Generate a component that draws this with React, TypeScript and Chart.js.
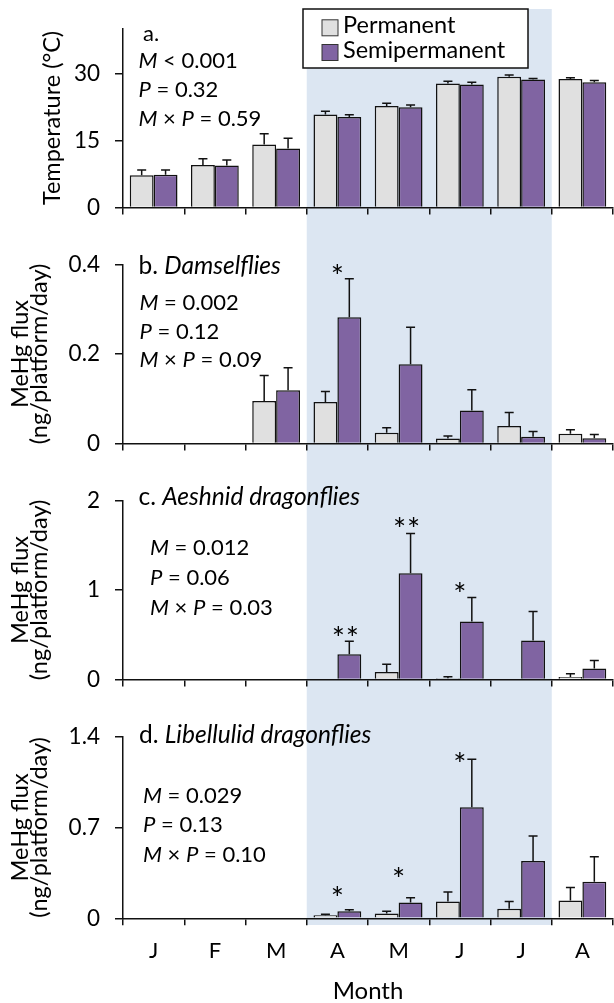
import React, { useEffect, useRef } from "react";
import { Chart, registerables } from "chart.js";

Chart.register(...registerables);

// ---------- data ----------
const months = ["J", "F", "M", "A", "M", "J", "J", "A"];
const seriesNames = ["Permanent", "Semipermanent"];

// a. Temperature (°C)
const tempPerm = [7.2, 9.5, 14.1, 20.8, 22.7, 27.7, 29.2, 28.7];
const tempPermErr = [1.2, 1.4, 2.4, 0.7, 0.6, 0.5, 0.4, 0.3];
const tempSemi = [7.3, 9.4, 13.2, 20.2, 22.4, 27.5, 28.6, 28.0];
const tempSemiErr = [1.1, 1.2, 2.3, 0.5, 0.5, 0.5, 0.2, 0.4];
const tempTicks = [0, 15, 30];
const tempMax = 40;
const tempStats = ["< 0.001", "= 0.32", "= 0.59"];

// b. Damselflies
const damPerm = [0, 0, 0.095, 0.093, 0.024, 0.011, 0.039, 0.022];
const damPermErr = [0, 0, 0.057, 0.023, 0.011, 0.006, 0.03, 0.009];
const damSemi = [0, 0, 0.119, 0.282, 0.177, 0.074, 0.015, 0.012];
const damSemiErr = [0, 0, 0.05, 0.086, 0.083, 0.046, 0.012, 0.008];
const damTicks = [0, 0.2, 0.4];
const damStats = ["= 0.002", "= 0.12", "= 0.09"];
const damSig = [{ month: 3, stars: 1, at: 0.391 }];

// c. Aeshnid dragonflies
const aesPerm = [0, 0, 0, 0, 0.084, 0.015, 0, 0.029];
const aesPermErr = [0, 0, 0, 0, 0.085, 0.015, 0, 0.034];
const aesSemi = [0, 0, 0, 0.282, 1.187, 0.648, 0.437, 0.124];
const aesSemiErr = [0, 0, 0, 0.145, 0.443, 0.268, 0.323, 0.087];
const aesTicks = [0, 1, 2];
const aesStats = ["= 0.012", "= 0.06", "= 0.03"];
const aesSig = [
  { month: 3, stars: 2, at: 0.546 },
  { month: 4, stars: 2, at: 1.76 },
  { month: 5, stars: 1, at: 1.03 },
];

// d. Libellulid dragonflies
const libPerm = [0, 0, 0, 0.024, 0.037, 0.13, 0.074, 0.137];
const libPermErr = [0, 0, 0, 0.008, 0.017, 0.073, 0.056, 0.101];
const libSemi = [0, 0, 0, 0.054, 0.122, 0.855, 0.442, 0.282];
const libSemiErr = [0, 0, 0, 0.012, 0.037, 0.37, 0.192, 0.192];
const libTicks = [0, 0.7, 1.4];
const libStats = ["= 0.029", "= 0.13", "= 0.10"];
const libSig = [
  { month: 3, stars: 1, at: 0.209 },
  { month: 4, stars: 1, at: 0.356 },
  { month: 5, stars: 1, at: 1.24 },
];

// shaded months (first, last index)
const shadedMonths = [3, 6];

// ---------- style ----------
const FONT = "Lato";
const PERM_COLOR = "#e0e0e0";
const SEMI_COLOR = "#8064a2";
const SHADE_COLOR = "#dce6f2";
const INK = "#111111";
const SHADE_TOP = 9;
const SHADE_BOTTOM = 925;
const STAT_SIZE = 22;
const HEAD_SIZE = 24.5;

type Seg = { t: string; it?: boolean };
type Line = { segs: Seg[]; x: number; y: number; size: number };

function statLines(vals: string[], x: number, ys: number[]): Line[] {
  return [
    { segs: [{ t: "M", it: true }, { t: " " + vals[0] }], x, y: ys[0], size: STAT_SIZE },
    { segs: [{ t: "P", it: true }, { t: " " + vals[1] }], x, y: ys[1], size: STAT_SIZE },
    {
      segs: [{ t: "M", it: true }, { t: " × " }, { t: "P", it: true }, { t: " " + vals[2] }],
      x,
      y: ys[2],
      size: STAT_SIZE,
    },
  ];
}

function drawSegs(ctx: CanvasRenderingContext2D, segs: Seg[], x: number, y: number, size: number) {
  let cx = x;
  ctx.textAlign = "left";
  ctx.textBaseline = "middle";
  ctx.fillStyle = "#000";
  for (const s of segs) {
    ctx.font = `${s.it ? "italic " : ""}${size}px ${FONT}`;
    ctx.fillText(s.t, cx, y);
    cx += ctx.measureText(s.t).width;
  }
}

type PanelCfg = {
  key: string;
  top: number;
  height: number;
  padTop: number;
  xHeight: number;
  perm: number[];
  permErr: number[];
  semi: number[];
  semiErr: number[];
  ticks: number[];
  max: number;
  yTitle: string | string[];
  yTitlePad: number;
  yTitleLH: number;
  lines: Line[];
  sig: { month: number; stars: number; at: number }[];
  showX: boolean;
  legend: boolean;
};

const MEHG_TITLE = ["MeHg flux", "(ng/platform/day)"];

const panels: PanelCfg[] = [
  {
    key: "a",
    top: 0,
    height: 236,
    padTop: 24.5,
    xHeight: 24,
    perm: tempPerm,
    permErr: tempPermErr,
    semi: tempSemi,
    semiErr: tempSemiErr,
    ticks: tempTicks,
    max: tempMax,
    yTitle: "Temperature (°C)",
    yTitlePad: 38,
    yTitleLH: 1.2,
    lines: [
      { segs: [{ t: "a." }], x: 143, y: 34, size: STAT_SIZE },
      ...statLines(tempStats, 138.5, [61, 90, 118.5]),
    ],
    sig: [],
    showX: false,
    legend: true,
  },
  {
    key: "b",
    top: 236,
    height: 236,
    padTop: 23.3,
    xHeight: 23.7,
    perm: damPerm,
    permErr: damPermErr,
    semi: damSemi,
    semiErr: damSemiErr,
    ticks: damTicks,
    max: damTicks[damTicks.length - 1],
    yTitle: MEHG_TITLE,
    yTitlePad: 11,
    yTitleLH: 0.8,
    lines: [
      { segs: [{ t: "b. " }, { t: "Damselflies", it: true }], x: 138.5, y: 30, size: HEAD_SIZE },
      ...statLines(damStats, 139.5, [67.3, 95.7, 124]),
    ],
    sig: damSig,
    showX: false,
    legend: false,
  },
  {
    key: "c",
    top: 472,
    height: 236,
    padTop: 20.3,
    xHeight: 26.3,
    perm: aesPerm,
    permErr: aesPermErr,
    semi: aesSemi,
    semiErr: aesSemiErr,
    ticks: aesTicks,
    max: aesTicks[aesTicks.length - 1],
    yTitle: MEHG_TITLE,
    yTitlePad: 11,
    yTitleLH: 0.8,
    lines: [
      { segs: [{ t: "c. " }, { t: "Aeshnid dragonflies", it: true }], x: 138.5, y: 25.3, size: HEAD_SIZE },
      ...statLines(aesStats, 150, [76.3, 106.3, 136.3]),
    ],
    sig: aesSig,
    showX: false,
    legend: false,
  },
  {
    key: "d",
    top: 708,
    height: 295,
    padTop: 20.3,
    xHeight: 84.7,
    perm: libPerm,
    permErr: libPermErr,
    semi: libSemi,
    semiErr: libSemiErr,
    ticks: libTicks,
    max: libTicks[libTicks.length - 1],
    yTitle: MEHG_TITLE,
    yTitlePad: 11,
    yTitleLH: 0.8,
    lines: [
      { segs: [{ t: "d. " }, { t: "Libellulid dragonflies", it: true }], x: 139, y: 27, size: HEAD_SIZE },
      ...statLines(libStats, 143, [88, 117, 147]),
    ],
    sig: libSig,
    showX: true,
    legend: false,
  },
];

function buildChart(canvas: HTMLCanvasElement, p: PanelCfg) {
  const errors = [p.permErr, p.semiErr];

  const shadePlugin = {
    id: "shade_" + p.key,
    beforeDraw(chart: any) {
      const ctx = chart.ctx as CanvasRenderingContext2D;
      const xs = chart.scales.x;
      const x0 = xs.getPixelForValue(shadedMonths[0] - 0.5);
      const x1 = xs.getPixelForValue(shadedMonths[1] + 0.5);
      const y0 = Math.max(0, SHADE_TOP - p.top);
      const y1 = Math.min(p.height, SHADE_BOTTOM - p.top);
      ctx.save();
      ctx.fillStyle = SHADE_COLOR;
      ctx.fillRect(x0, y0, x1 - x0, y1 - y0);
      ctx.restore();
    },
  };

  const overlayPlugin = {
    id: "overlay_" + p.key,
    afterDatasetsDraw(chart: any) {
      const ctx = chart.ctx as CanvasRenderingContext2D;
      const ys = chart.scales.y;
      ctx.save();
      ctx.strokeStyle = INK;
      ctx.lineWidth = 1.5;
      for (let d = 0; d < 2; d++) {
        const meta = chart.getDatasetMeta(d);
        const vals = chart.data.datasets[d].data as number[];
        meta.data.forEach((bar: any, i: number) => {
          const e = errors[d][i];
          if (!e) return;
          const yTop = ys.getPixelForValue(vals[i] + e);
          ctx.beginPath();
          ctx.moveTo(bar.x, bar.y);
          ctx.lineTo(bar.x, yTop);
          ctx.moveTo(bar.x - 4.5, yTop);
          ctx.lineTo(bar.x + 4.5, yTop);
          ctx.stroke();
        });
      }
      ctx.restore();
    },
    afterDraw(chart: any) {
      const ctx = chart.ctx as CanvasRenderingContext2D;
      const xs = chart.scales.x;
      const ys = chart.scales.y;
      ctx.save();
      for (const l of p.lines) drawSegs(ctx, l.segs, l.x, l.y, l.size);

      // significance stars
      ctx.font = `31px ${FONT}`;
      ctx.fillStyle = "#000";
      ctx.textAlign = "center";
      ctx.textBaseline = "alphabetic";
      const m = ctx.measureText("*");
      const off = (m.actualBoundingBoxAscent - m.actualBoundingBoxDescent) / 2;
      for (const s of p.sig) {
        const cx = xs.getPixelForValue(s.month) + (s.stars > 1 ? 8 : 0);
        const cy = ys.getPixelForValue(s.at);
        for (let k = 0; k < s.stars; k++) {
          const sx = cx - ((s.stars - 1) * 14) / 2 + k * 14;
          ctx.fillText("*", sx, cy + off);
        }
      }

      if (p.legend) {
        const bx = 303, by = 9, bw = 225, bh = 59;
        ctx.fillStyle = "#fff";
        ctx.fillRect(bx, by, bw, bh);
        ctx.strokeStyle = INK;
        ctx.lineWidth = 1.5;
        ctx.strokeRect(bx, by, bw, bh);
        const rows = [27.8, 52.5];
        const cols = [PERM_COLOR, SEMI_COLOR];
        for (let r = 0; r < 2; r++) {
          ctx.fillStyle = cols[r];
          ctx.fillRect(322, rows[r] - 8, 16, 16);
          ctx.strokeStyle = "#333";
          ctx.lineWidth = 1;
          ctx.strokeRect(322, rows[r] - 8, 16, 16);
          ctx.fillStyle = "#000";
          ctx.font = `23.5px ${FONT}`;
          ctx.textAlign = "left";
          ctx.textBaseline = "middle";
          ctx.fillText(seriesNames[r], 343, rows[r] - 2.5);
        }
      }
      ctx.restore();
    },
  };

  return new Chart(canvas, {
    type: "bar",
    data: {
      labels: months,
      datasets: [
        {
          label: seriesNames[0],
          data: p.perm,
          backgroundColor: PERM_COLOR,
          borderColor: INK,
          borderWidth: 1.5,
          categoryPercentage: 0.78,
          barPercentage: 1.0,
        },
        {
          label: seriesNames[1],
          data: p.semi,
          backgroundColor: SEMI_COLOR,
          borderColor: INK,
          borderWidth: 1.5,
          categoryPercentage: 0.78,
          barPercentage: 1.0,
        },
      ],
    },
    options: {
      responsive: false,
      animation: false,
      devicePixelRatio: 1,
      layout: { padding: { top: p.padTop, bottom: 0, left: 0, right: 1 } },
      plugins: {
        legend: { display: false },
        tooltip: { enabled: false },
      },
      scales: {
        x: {
          offset: true,
          grid: {
            offset: true,
            drawOnChartArea: false,
            drawTicks: true,
            tickLength: 7,
            color: INK,
            lineWidth: 1.5,
          },
          border: { display: true, color: INK, width: 1.5 },
          ticks: {
            display: p.showX,
            color: "#000",
            font: { family: FONT, size: 22 },
            padding: 12,
            maxRotation: 0,
            autoSkip: false,
          },
          title: {
            display: p.showX,
            text: "Month",
            color: "#000",
            font: { family: FONT, size: 24, lineHeight: 1.0 },
            padding: { top: 0, bottom: 0 },
          },
          afterFit(scale: any) {
            scale.height = p.xHeight;
          },
        },
        y: {
          min: 0,
          max: p.max,
          grid: {
            drawOnChartArea: false,
            drawTicks: true,
            tickLength: 8,
            color: INK,
            lineWidth: 1.5,
          },
          border: { display: true, color: INK, width: 1.5 },
          ticks: {
            color: "#000",
            font: { family: FONT, size: 22.5 },
            padding: 15,
            callback: (v: any) => String(v),
          },
          afterBuildTicks(scale: any) {
            scale.ticks = p.ticks.map((v) => ({ value: v }));
          },
          title: {
            display: true,
            text: p.yTitle,
            color: "#000",
            font: { family: FONT, size: 23.5, lineHeight: p.yTitleLH },
            padding: { top: p.yTitlePad, bottom: 0 },
          },
          afterFit(scale: any) {
            scale.width = 123;
          },
        },
      },
    },
    plugins: [shadePlugin, overlayPlugin],
  } as any);
}

function Panel({ p }: { p: PanelCfg }) {
  const ref = useRef<HTMLCanvasElement>(null);
  useEffect(() => {
    if (!ref.current) return;
    const chart = buildChart(ref.current, p);
    return () => chart.destroy();
  }, [p]);
  return (
    <canvas
      ref={ref}
      width={614}
      height={p.height}
      style={{ position: "absolute", left: 0, top: p.top, width: 614, height: p.height, display: "block" }}
    />
  );
}

export default function App() {
  return (
    <div style={{ position: "absolute", left: 0, top: 0, width: 614, height: 1003, background: "#fff" }}>
      {panels.map((p) => (
        <Panel key={p.key} p={p} />
      ))}
    </div>
  );
}
